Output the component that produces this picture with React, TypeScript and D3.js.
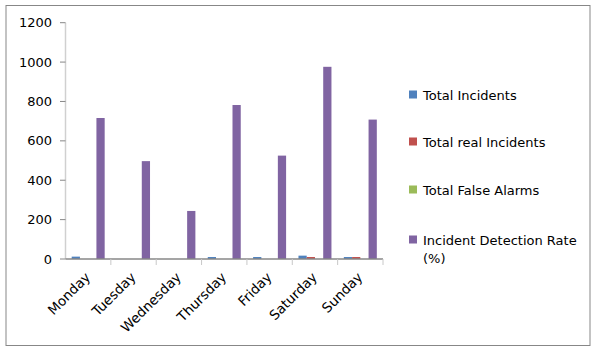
import React from "react";
import * as d3 from "d3";

const days = ["Monday", "Tuesday", "Wednesday", "Thursday", "Friday", "Saturday", "Sunday"];
const seriesNames = ["Total Incidents", "Total real Incidents", "Total False Alarms", "Incident Detection Rate (%)"];
const totalIncidents = [12, 0, 0, 10, 10, 17, 10];
const totalReal = [0, 0, 0, 0, 0, 10, 10];
const totalFalse = [0, 0, 0, 0, 0, 0, 0];
const detectionRate = [716, 497, 244, 782, 525, 976, 708];
const yTicks = [0, 200, 400, 600, 800, 1000, 1200];
const colors = ["#4F81BD", "#C0504D", "#9BBB59", "#8064A2"];

const W = 591;
const H = 347;
const FONT = "'DejaVu Sans', sans-serif";

export default function App() {
  const seriesValues = [totalIncidents, totalReal, totalFalse, detectionRate];
  const x0 = d3.scaleBand<string>().domain(days).range([65.5, 383]).padding(0);
  const bw = x0.bandwidth();
  const barW = bw / 5.5;
  const gap = (bw - 4 * barW) / 2;
  const x1 = d3
    .scaleBand<string>()
    .domain(seriesNames)
    .range([gap, bw - gap])
    .padding(0);
  const y = d3.scaleLinear().domain([0, 1200]).range([259, 22.7]);

  const legendY = [95, 142, 190, 240];

  return (
    <div style={{ position: "absolute", left: 0, top: 0 }}>
      <svg width={W} height={H} style={{ display: "block" }}>
        <rect x={0} y={0} width={W} height={H} fill="#fff" />
        <rect x={6} y={5.5} width={584} height={340} fill="none" stroke="#878787" strokeWidth={1} />
        {/* y axis */}
        <line x1={65.5} x2={65.5} y1={22.7} y2={259} stroke="#D0D0D0" strokeWidth={1.5} />
        {yTicks.map((t) => (
          <g key={t}>
            <line x1={60} x2={65.5} y1={y(t)} y2={y(t)} stroke="#878787" strokeWidth={1} />
            <text x={52} y={y(t)} dy="0.35em" textAnchor="end" fontFamily={FONT} fontSize={13} fill="#000">
              {t}
            </text>
          </g>
        ))}
        {/* bars */}
        {days.map((d, i) => (
          <g key={d} transform={`translate(${x0(d)},0)`}>
            {seriesNames.map((s, j) => {
              const v = seriesValues[j][i];
              if (v <= 0) return null;
              return (
                <rect
                  key={s}
                  x={x1(s)}
                  y={y(v)}
                  width={x1.bandwidth()}
                  height={y(0) - y(v)}
                  fill={colors[j]}
                />
              );
            })}
          </g>
        ))}
        {/* x axis */}
        <line x1={65.5} x2={383} y1={259} y2={259} stroke="#878787" strokeWidth={1.5} />
        {days.map((d) => (
          <line
            key={"t" + d}
            x1={(x0(d) as number) + bw}
            x2={(x0(d) as number) + bw}
            y1={259}
            y2={265}
            stroke="#C8C8C8"
            strokeWidth={1}
          />
        ))}
        {days.map((d) => {
          const cx = (x0(d) as number) + bw / 2;
          return (
            <text
              key={"l" + d}
              transform={`translate(${cx + 3},${278}) rotate(-45)`}
              textAnchor="end"
              fontFamily={FONT}
              fontSize={13.5}
              fill="#000"
            >
              {d}
            </text>
          );
        })}
        {/* legend */}
        {seriesNames.map((s, j) => (
          <g key={"lg" + s} transform={`translate(409,${legendY[j]})`}>
            <rect x={0} y={-4.5} width={8} height={8} fill={colors[j]} />
            {j < 3 ? (
              <text x={14} y={0} dy="0.35em" fontFamily={FONT} fontSize={13} fill="#000">
                {s}
              </text>
            ) : (
              <text x={14} y={0} dy="0.35em" fontFamily={FONT} fontSize={13} fill="#000">
                <tspan x={14}>Incident Detection Rate</tspan>
                <tspan x={14} dy={18}>
                  (%)
                </tspan>
              </text>
            )}
          </g>
        ))}
      </svg>
    </div>
  );
}
